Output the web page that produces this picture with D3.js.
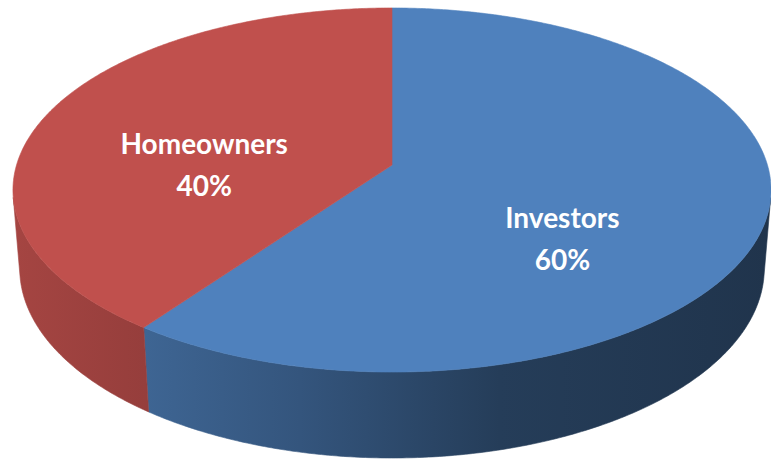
<!DOCTYPE html>
<html>
<head>
<meta charset="utf-8">
<script src="https://cdn.jsdelivr.net/npm/d3@7"></script>
<style>
  html, body { margin: 0; padding: 0; background: #ffffff; }
  svg { display: block; }
</style>
</head>
<body>
<svg id="chart" width="771" height="459"></svg>
<script>
// Share of buyers
const categories = ["Investors", "Homeowners"];
const values = [60, 40];
const percentLabels = ["60%", "40%"];
const topColors = ["#4f81bd", "#c0504d"];

const W = 771, H = 459;
const svg = d3.select("#chart");

// Perspective camera looking down on a unit disc of given thickness
const cam = {
  cx: 392, cy: 165,
  sinE: 0.4757,
  dist: 6.403,
  focal: 2404,
  thick: 0.2404
};
cam.cosE = Math.sqrt(1 - cam.sinE * cam.sinE);

// angle a: 0 at the far edge, increasing clockwise as seen from above
function project(a, r, h) {
  const x = r * Math.sin(a);
  const y = -r * Math.cos(a);            // toward the viewer
  const depth = cam.dist - y * cam.cosE - h * cam.sinE;
  return [
    cam.cx + cam.focal * x / depth,
    cam.cy + cam.focal * (y * cam.sinE - h * cam.cosE) / depth
  ];
}

const pie = d3.pie().sort(null).value(d => d)(values);

// range of the rim that faces the camera
const facing = Math.acos(-1 / (cam.dist * cam.cosE));
const visLo = facing, visHi = 2 * Math.PI - facing;

const step = Math.PI / 360;
function arcAngles(a0, a1) {
  const n = Math.max(2, Math.ceil((a1 - a0) / step));
  return d3.range(n + 1).map(i => a0 + (a1 - a0) * i / n);
}

const line = d3.line();
const defs = svg.append("defs");

// horizontal shading of the rim, brighter on the left
const shade = [
  { x: 12,  k: 0.14 },
  { x: 145, k: 0.22 },
  { x: 300, k: 0.34 },
  { x: 500, k: 0.53 },
  { x: 770, k: 0.60 }
];
topColors.forEach((c, i) => {
  const g = defs.append("linearGradient")
    .attr("id", "rim" + i)
    .attr("gradientUnits", "userSpaceOnUse")
    .attr("x1", 12).attr("x2", 770).attr("y1", 0).attr("y2", 0);
  shade.forEach(s => {
    g.append("stop")
      .attr("offset", (s.x - 12) / (770 - 12))
      .attr("stop-color", d3.interpolateRgb(c, "#000")(s.k));
  });
});

// rims
const rims = svg.append("g");
pie.forEach((p, i) => {
  const a0 = Math.max(p.startAngle, visLo);
  const a1 = Math.min(p.endAngle, visHi);
  if (a1 <= a0) return;
  const angs = arcAngles(a0, a1);
  const topPts = angs.map(a => project(a, 1, 0));
  const botPts = angs.slice().reverse().map(a => project(a, 1, -cam.thick));
  rims.append("path")
    .attr("d", line(topPts.concat(botPts)) + "Z")
    .attr("fill", `url(#rim${i})`)
    .attr("stroke", `url(#rim${i})`)
    .attr("stroke-width", 0.6);
});

// top faces
const tops = svg.append("g");
pie.forEach((p, i) => {
  const pts = [project(0, 0, 0)].concat(
    arcAngles(p.startAngle, p.endAngle).map(a => project(a, 1, 0)));
  tops.append("path")
    .attr("d", line(pts) + "Z")
    .attr("fill", topColors[i])
    .attr("stroke", topColors[i])
    .attr("stroke-width", 0.6);
});

// labels: anchored at the slice's mid-angle, half way out, then nudged
const labelR = 0.5;
const labelNudge = [[-12, 46], [-13, 27]];
const labels = svg.append("g")
  .attr("font-family", "Lato, 'Open Sans', sans-serif")
  .attr("font-weight", "bold")
  .attr("font-size", 28)
  .attr("fill", "#ffffff")
  .attr("text-anchor", "middle");

pie.forEach((p, i) => {
  const mid = (p.startAngle + p.endAngle) / 2;
  const a = project(mid, labelR, 0);
  const x = a[0] + labelNudge[i][0];
  const y = a[1] + labelNudge[i][1];
  labels.append("text").attr("x", x).attr("y", y - 11).text(categories[i]);
  labels.append("text").attr("x", x).attr("y", y + 31).text(percentLabels[i]);
});
</script>
</body>
</html>
